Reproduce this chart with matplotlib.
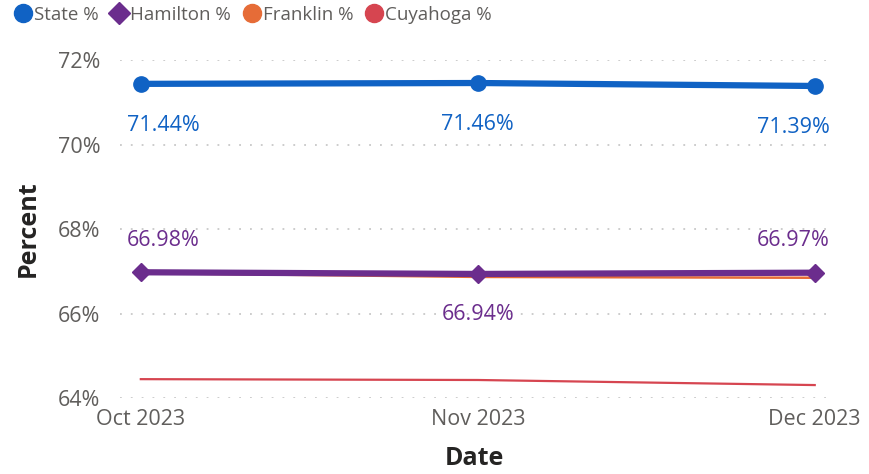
import matplotlib
matplotlib.use("Agg")
import matplotlib.pyplot as plt
from matplotlib.lines import Line2D

months = ["Oct 2023", "Nov 2023", "Dec 2023"]
state = [71.44, 71.46, 71.39]
hamilton = [66.98, 66.94, 66.97]
franklin = [66.96, 66.87, 66.85]
cuyahoga = [64.45, 64.43, 64.31]
yticks = [64, 66, 68, 70, 72]

c_state = "#1062C4"
c_ham = "#6B2D8D"
c_fra = "#E66C37"
c_cuy = "#D64550"
tick_col = "#605E5C"

plt.rcParams['font.family'] = ['Open Sans', 'DejaVu Sans']

fig = plt.figure(figsize=(8.69, 4.74), dpi=100)
ax = fig.add_axes([0.138, 0.160, 0.817, 0.713])
x = list(range(len(months)))

ax.plot(x, cuyahoga, color=c_cuy, lw=1.6, zorder=3)
ax.plot(x, franklin, color=c_fra, lw=1.8, zorder=3)
ax.plot(x, hamilton, color=c_ham, lw=4.5, marker='D', ms=9, zorder=4)
ax.plot(x, state, color=c_state, lw=4.5, marker='o', ms=11, zorder=5)

n = len(months)
def place(i):
    if i == 0:
        return -10, 'left'
    if i == n - 1:
        return 11, 'right'
    return 0, 'center'

for i, v in enumerate(state):
    dx, ha = place(i)
    ax.annotate(f"{v:.2f}%", (i, v), xytext=(dx, -30), textcoords='offset points',
                ha=ha, va='center', color=c_state, fontsize=15.5)
ham_off = [23, -29, 23]
for i, v in enumerate(hamilton):
    dx, ha = place(i)
    ax.annotate(f"{v:.2f}%", (i, v), xytext=(dx, ham_off[i]), textcoords='offset points',
                ha=ha, va='center', color=c_ham, fontsize=15.5)

ax.set_ylim(64, 72)
ax.set_yticks(yticks)
ax.set_yticklabels([f"{t}%" for t in yticks])
ax.set_xlim(-0.062, 2.045)
ax.set_xticks(x)
ax.set_xticklabels(months)
ax.tick_params(axis='y', length=0, labelsize=15.5, colors=tick_col, pad=14)
ax.tick_params(axis='x', length=0, labelsize=15.5, colors=tick_col, pad=8)
ax.grid(axis='y', color='#C8C8C8', linestyle=(0, (1, 5)), lw=1.3)
for s in ax.spines.values():
    s.set_visible(False)
ax.set_ylabel("Percent", fontsize=18, fontweight='bold', color='#252423', labelpad=12)
ax.set_xlabel("Date", fontsize=18, fontweight='bold', color='#252423', labelpad=11)

handles = [
    Line2D([], [], ls='none', marker='o', ms=13, color=c_state),
    Line2D([], [], ls='none', marker='D', ms=11, color=c_ham),
    Line2D([], [], ls='none', marker='o', ms=13, color=c_fra),
    Line2D([], [], ls='none', marker='o', ms=13, color=c_cuy),
]
labels = ["State %", "Hamilton %", "Franklin %", "Cuyahoga %"]
leg = fig.legend(handles, labels, loc='upper left', bbox_to_anchor=(0.0, 1.012), ncol=4,
                 frameon=False, fontsize=13.5, handletextpad=0.0, columnspacing=0.5,
                 handlelength=1.2, borderaxespad=0.2)
for t in leg.get_texts():
    t.set_color(tick_col)

fig.savefig("out.png", dpi=100)
